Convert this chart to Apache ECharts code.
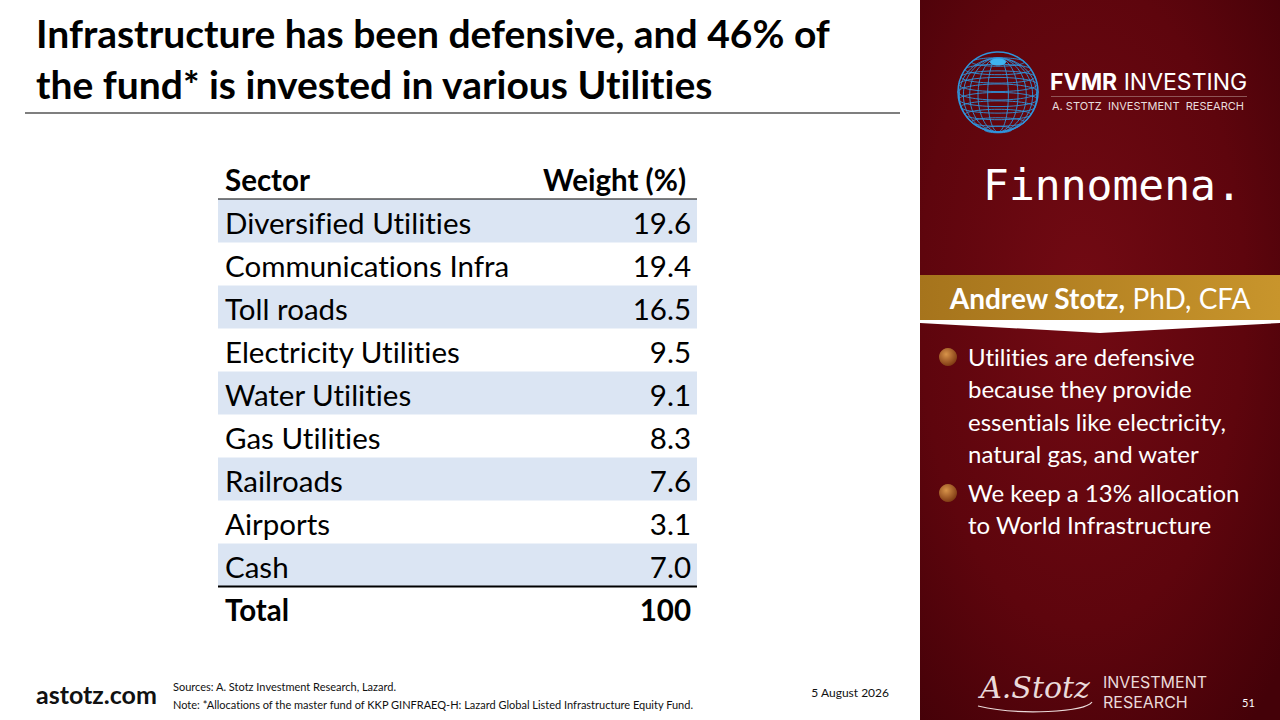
<!DOCTYPE html>
<html>
<head>
<meta charset="utf-8">
<script src="https://cdn.jsdelivr.net/npm/echarts@6/dist/echarts.min.js"></script>
<style>
  html, body { margin: 0; padding: 0; background: #fff; }
  #main { width: 1280px; height: 720px; }
  #main text, #main tspan {
    font-variant-ligatures: none !important;
    font-feature-settings: "liga" 0, "clig" 0 !important;
  }
</style>
</head>
<body>
<div id="main"></div>
<script>
// table data
const headerCols = ['Sector', 'Weight (%)']
const sectors = ['Diversified Utilities', 'Communications Infra', 'Toll roads', 'Electricity Utilities',
  'Water Utilities', 'Gas Utilities', 'Railroads', 'Airports', 'Cash']
const weights = [19.6, 19.4, 16.5, 9.5, 9.1, 8.3, 7.6, 3.1, 7.0]
const totalLabel = 'Total'
const totalWeight = 100

const titleLines = ['Infrastructure has been defensive, and 46% of', 'the fund* is invested in various Utilities']
const bullets = [
  ['Utilities are defensive', 'because they provide', 'essentials like electricity,', 'natural gas, and water'],
  ['We keep a 13% allocation', 'to World Infrastructure']
]

const FONT = 'Lato, "Open Sans", sans-serif'
const rows = [headerCols[0]].concat(sectors, [totalLabel])

var myChart = echarts.init(document.getElementById('main'), null, { renderer: 'svg' })

// one custom item per table row
function renderRow(params, api) {
  const idx = api.value(0)
  const left = api.coord([0, idx])
  const right = api.coord([1, idx])
  const h = api.size([0, 1])[1]
  const top = left[1] - h / 2
  const cy = left[1] + 1
  const children = []
  const isHeader = idx === 0
  const isTotal = idx === rows.length - 1
  if (!isHeader && !isTotal && idx % 2 === 1) {
    children.push({ type: 'rect', shape: { x: left[0], y: top, width: right[0] - left[0], height: h },
      style: { fill: '#dbe5f3' } })
  }
  let valueText
  if (isHeader) valueText = headerCols[1]
  else if (isTotal) valueText = String(totalWeight)
  else valueText = weights[idx - 1].toFixed(1)
  const bold = isHeader || isTotal
  children.push({ type: 'text', style: { x: left[0] + 7, y: cy, text: rows[idx], fill: '#000',
    font: (bold ? 'bold ' : '') + '29.5px ' + FONT, textAlign: 'left', textVerticalAlign: 'middle' } })
  children.push({ type: 'text', style: { x: right[0] - (isHeader ? 11 : 6), y: cy, text: valueText, fill: '#000',
    font: (bold ? 'bold ' : '') + '29.5px ' + FONT, textAlign: 'right', textVerticalAlign: 'middle' } })
  if (isHeader || isTotal) {
    const ly = isHeader ? top + h : top
    children.push({ type: 'line', shape: { x1: left[0], y1: ly, x2: right[0], y2: ly },
      style: { stroke: '#000', lineWidth: 2 } })
  }
  return { type: 'group', children: children }
}

// globe logo
const gx = 998, gy = 92, gr = 40
const blue = '#2f95dc'
const globe = [{ type: 'circle', shape: { cx: gx, cy: gy, r: gr }, style: { fill: 'transparent', stroke: blue, lineWidth: 1.5 } }]
for (let k = 1; k < 6; k++) {
  globe.push({ type: 'ellipse', shape: { cx: gx, cy: gy + 3, rx: gr * Math.sin(k * Math.PI / 12), ry: gr - 3 },
    style: { fill: 'transparent', stroke: blue, lineWidth: 0.9 } })
}
for (let k = -4; k <= 5; k++) {
  const off = k * 7.5
  if (Math.abs(off) >= gr - 1) continue
  globe.push({ type: 'ellipse', shape: { cx: gx, cy: gy + off, rx: Math.sqrt(gr * gr - off * off), ry: 3 + (gr - Math.abs(off)) / 8 },
    style: { fill: 'transparent', stroke: blue, lineWidth: 0.9 } })
}
globe.push({ type: 'ellipse', shape: { cx: gx, cy: gy - 30, rx: 8, ry: 3.5 }, style: { fill: '#3fb4f0' } })

const bulletEls = []
let by = 356
bullets.forEach(function (lines, bi) {
  if (bi > 0) by += 6
  bulletEls.push({ type: 'circle', shape: { cx: 948, cy: by + 1, r: 9 },
    style: { fill: new echarts.graphic.RadialGradient(0.4, 0.35, 0.7, [
      { offset: 0, color: '#d8944a' }, { offset: 1, color: '#7a3510' }]) } })
  lines.forEach(function (ln) {
    bulletEls.push({ type: 'text', style: { x: 968, y: by, text: ln, fill: '#fff', font: '24px ' + FONT,
      textVerticalAlign: 'middle' } })
    by += 32.5
  })
})

let option = {
  animation: false,
  grid: { left: 218, right: 583, top: 156.5, bottom: 90.5 },
  xAxis: { type: 'value', min: 0, max: 1, show: false },
  yAxis: { type: 'category', inverse: true, data: rows, show: false },
  series: [{
    type: 'custom',
    renderItem: renderRow,
    data: rows.map(function (r, i) { return [i] }),
    silent: true
  }],
  graphic: [
    // title
    { type: 'text', style: { x: 36, y: 33, text: titleLines[0], fill: '#000', font: 'bold 39px ' + FONT, textVerticalAlign: 'middle' } },
    { type: 'text', style: { x: 36, y: 84, text: titleLines[1], fill: '#000', font: 'bold 39px ' + FONT, textVerticalAlign: 'middle' } },
    { type: 'rect', shape: { x: 25, y: 112.5, width: 875, height: 1 }, style: { fill: '#000' } },
    // right panel
    { type: 'rect', shape: { x: 920, y: 0, width: 360, height: 720 },
      style: { fill: new echarts.graphic.RadialGradient(0.45, 0.42, 0.75, [
        { offset: 0, color: '#720a13' }, { offset: 0.6, color: '#5e050d' }, { offset: 1, color: '#440108' }]) } },
    { type: 'group', children: globe },
    { type: 'text', style: { x: 1050, y: 82, text: '{b|FVMR} INVESTING', fill: '#fff', font: '23px Inter, sans-serif',
      textVerticalAlign: 'middle', rich: { b: { fontWeight: 'bold', fontSize: 23, fontFamily: 'Inter, sans-serif', fill: '#fff' } } } },
    { type: 'rect', shape: { x: 1051, y: 96, width: 196, height: 0.8 }, style: { fill: '#a07070' } },
    { type: 'text', style: { x: 1052, y: 106, text: 'A. STOTZ  INVESTMENT  RESEARCH', fill: '#e8dede',
      font: '11px Inter, sans-serif', textVerticalAlign: 'middle' } },
    { type: 'text', style: { x: 983, y: 185, text: 'Finnomena.', fill: '#fff', font: '43px "DejaVu Sans Mono", monospace',
      textVerticalAlign: 'middle' } },
    // name banner
    { type: 'rect', shape: { x: 920, y: 275, width: 360, height: 45 },
      style: { fill: new echarts.graphic.LinearGradient(0, 0, 1, 0, [
        { offset: 0, color: '#a6741c' }, { offset: 1, color: '#c8952c' }]) } },
    { type: 'polygon', shape: { points: [[920, 320], [1280, 320], [1280, 323], [1100, 333], [920, 323]] },
      style: { fill: '#ffffff' } },
    { type: 'text', style: { x: 1100, y: 298, text: '{b|Andrew Stotz,} PhD, CFA', fill: '#fff', font: '28px ' + FONT,
      textAlign: 'center', textVerticalAlign: 'middle',
      rich: { b: { fontWeight: 'bold', fontSize: 28, fontFamily: FONT, fill: '#fff' } } } },
    { type: 'group', children: bulletEls },
    // footer
    { type: 'text', style: { x: 36, y: 694, text: 'astotz.com', fill: '#111', font: 'bold 25px ' + FONT, textVerticalAlign: 'middle' } },
    { type: 'text', style: { x: 173, y: 686, text: 'Sources: A. Stotz Investment Research, Lazard.', fill: '#111',
      font: '11px ' + FONT, textVerticalAlign: 'middle' } },
    { type: 'text', style: { x: 173, y: 704, text: 'Note: *Allocations of the master fund of KKP GINFRAEQ-H: Lazard Global Listed Infrastructure Equity Fund.',
      fill: '#111', font: '11px ' + FONT, textVerticalAlign: 'middle' } },
    { type: 'text', style: { x: 889, y: 692, text: '5 August 2026', fill: '#111', font: '12px ' + FONT,
      textAlign: 'right', textVerticalAlign: 'middle' } },
    // signature
    { type: 'text', style: { x: 1035, y: 687, text: 'A.Stotz', fill: '#eadada', font: 'italic 30px "DejaVu Serif", serif',
      textAlign: 'center', textVerticalAlign: 'middle' } },
    { type: 'bezierCurve', shape: { x1: 978, y1: 706, x2: 1092, y2: 702, cpx1: 1020, cpy1: 716, cpx2: 1085, cpy2: 712 },
      style: { stroke: '#eadada', lineWidth: 1.2, fill: 'none' } },
    { type: 'text', style: { x: 1103, y: 682, text: 'INVESTMENT', fill: '#eadada', font: '16px Inter, sans-serif', textVerticalAlign: 'middle' } },
    { type: 'text', style: { x: 1103, y: 702, text: 'RESEARCH', fill: '#eadada', font: '16px Inter, sans-serif', textVerticalAlign: 'middle' } },
    { type: 'text', style: { x: 1242, y: 702, text: '51', fill: '#fff', font: '11px ' + FONT, textVerticalAlign: 'middle' } }
  ]
}
myChart.setOption(option)
</script>
</body>
</html>
